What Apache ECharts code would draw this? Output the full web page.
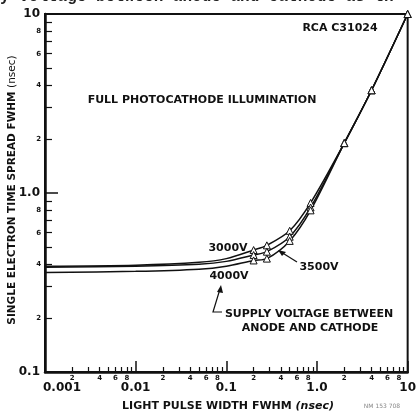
<!DOCTYPE html>
<html>
<head>
<meta charset="utf-8">
<script src="https://cdn.jsdelivr.net/npm/echarts@6/dist/echarts.min.js"></script>
<style>
html, body { margin: 0; padding: 0; background: #fff; }
#chart1 { width: 419px; height: 412px; }
</style>
</head>
<body>
<div id="chart1"></div>
<script>
// light pulse width (nsec)
var pulseWidth = [0.001, 0.01, 0.05, 0.1, 0.2, 0.28, 0.5, 0.85, 2, 4, 10];
// which points carry a triangle marker
var hasMarker = [false, false, false, false, true, true, true, true, true, true, true];
// time spread FWHM (nsec) for each supply voltage
var spread3000 = [0.39, 0.395, 0.41, 0.43, 0.48, 0.51, 0.615, 0.88, 1.9, 3.75, 10];
var spread3500 = [0.385, 0.39, 0.40, 0.415, 0.45, 0.47, 0.57, 0.83, 1.9, 3.75, 10];
var spread4000 = [0.36, 0.365, 0.375, 0.39, 0.42, 0.43, 0.54, 0.80, 1.9, 3.75, 10];

// tick positions
var xMajor = [0.001, 0.01, 0.1, 1, 10];
var xMajorText = ['0.001', '0.01', '0.1', '1.0', '10'];
var yMajor = [0.1, 1, 10];
var yMajorText = ['0.1', '1.0', '10'];
var minorSteps = [2, 3, 4, 5, 6, 7, 8, 9];
var minorLabelSteps = [2, 4, 6, 8];

function decadeValues(decades, steps) {
    var out = [];
    for (var i = 0; i < decades.length; i++) {
        for (var j = 0; j < steps.length; j++) {
            out.push(+(decades[i] * steps[j]).toPrecision(3));
        }
    }
    return out;
}
var xMinorTicks = decadeValues([0.001, 0.01, 0.1, 1], minorSteps);
var xMinorLabels = decadeValues([0.001, 0.01, 0.1, 1], minorLabelSteps);
var yMinorTicks = decadeValues([0.1, 1], minorSteps);
var yMinorLabels = decadeValues([0.1, 1], minorLabelSteps);

function mantissa(v) {
    var m = v / Math.pow(10, Math.floor(Math.log10(v) + 1e-9));
    return String(Math.round(m));
}
function majorText(list, texts) {
    return function (v) {
        for (var i = 0; i < list.length; i++) {
            if (Math.abs(Math.log10(v) - Math.log10(list[i])) < 1e-6) {
                return i === 0 && list === xMajor ? '{first|' + texts[i] + '}' : texts[i];
            }
        }
        return '';
    };
}

function buildData(ys) {
    var d = [];
    for (var i = 0; i < pulseWidth.length; i++) {
        d.push({ value: [pulseWidth[i], ys[i]], symbol: hasMarker[i] ? 'triangle' : 'none' });
    }
    return d;
}

var FONT = '"DejaVu Sans", sans-serif';
var INK = '#111';

var _chart1 = null;
function initChart1() {
    _chart1 = echarts.init(document.getElementById('chart1'), null, { renderer: 'canvas' });

    var lineSeries = function (name, ys) {
        return {
            name: name,
            type: 'line',
            data: buildData(ys),
            smooth: 0.3,
            symbolSize: 7,
            showAllSymbol: true,
            lineStyle: { color: INK, width: 1.5 },
            itemStyle: { color: '#fff', borderColor: INK, borderWidth: 1 },
            z: 3
        };
    };

    var axisCommon = { type: 'log', logBase: 10, splitLine: { show: false }, minorTick: { show: false } };

    var option = {
        animation: false,
        backgroundColor: '#fff',
        textStyle: { fontFamily: FONT },
        grid: {
            left: 45, right: 8, top: 14, bottom: 40,
            show: true, borderColor: INK, borderWidth: 2, backgroundColor: 'transparent'
        },
        xAxis: [
            Object.assign({}, axisCommon, {
                min: 0.001, max: 10, position: 'bottom',
                axisLine: { show: true, lineStyle: { color: INK, width: 2.5 } },
                axisTick: { show: true, inside: true, length: 11, customValues: xMajor, lineStyle: { color: INK, width: 1.5 } },
                axisLabel: {
                    customValues: xMajor, formatter: majorText(xMajor, xMajorText), margin: 10,
                    color: INK, fontFamily: FONT, fontWeight: 'bold', fontSize: 12,
                    rich: { first: { padding: [0, 0, 0, 34], fontFamily: FONT, fontWeight: 'bold', fontSize: 12, color: INK } }
                }
            }),
            Object.assign({}, axisCommon, {
                min: 0.001, max: 10, position: 'bottom',
                axisLine: { show: false },
                axisTick: { show: true, inside: true, length: 5, customValues: xMinorTicks, lineStyle: { color: INK, width: 1.2 } },
                axisLabel: {
                    customValues: xMinorLabels, formatter: mantissa, margin: 3,
                    color: INK, fontFamily: FONT, fontWeight: 'bold', fontSize: 7
                }
            })
        ],
        yAxis: [
            Object.assign({}, axisCommon, {
                min: 0.1, max: 10, position: 'left',
                axisLine: { show: true, lineStyle: { color: INK, width: 2.5 } },
                axisTick: { show: true, inside: true, length: 13, customValues: yMajor, lineStyle: { color: INK, width: 1.5 } },
                axisLabel: {
                    customValues: yMajor, formatter: majorText(yMajor, yMajorText), margin: 5,
                    color: INK, fontFamily: FONT, fontWeight: 'bold', fontSize: 12
                }
            }),
            Object.assign({}, axisCommon, {
                min: 0.1, max: 10, position: 'left',
                axisLine: { show: false },
                axisTick: { show: true, inside: true, length: 7, customValues: yMinorTicks, lineStyle: { color: INK, width: 1.2 } },
                axisLabel: {
                    customValues: yMinorLabels, formatter: mantissa, margin: 4,
                    color: INK, fontFamily: FONT, fontWeight: 'bold', fontSize: 7
                }
            })
        ],
        series: [
            lineSeries('3000V', spread3000),
            lineSeries('3500V', spread3500),
            lineSeries('4000V', spread4000)
        ],
        graphic: [
            // cut-off line of body text above the figure
            { type: 'text', left: 0, top: -11, style: { text: 'y voltage between anode and cathode as th', fontFamily: '"Liberation Mono", monospace', fontWeight: 'bold', fontSize: 16, fill: '#222' } },
            { type: 'text', x: 340, y: 28, style: { text: 'RCA C31024', align: 'center', verticalAlign: 'middle', fontFamily: FONT, fontWeight: 'bold', fontSize: 11, fill: INK } },
            { type: 'text', x: 202, y: 100, style: { text: 'FULL PHOTOCATHODE ILLUMINATION', align: 'center', verticalAlign: 'middle', fontFamily: FONT, fontWeight: 'bold', fontSize: 11, fill: INK } },
            { type: 'text', x: 228, y: 248, style: { text: '3000V', align: 'center', verticalAlign: 'middle', fontFamily: FONT, fontWeight: 'bold', fontSize: 11, fill: INK } },
            { type: 'text', x: 319, y: 267, style: { text: '3500V', align: 'center', verticalAlign: 'middle', fontFamily: FONT, fontWeight: 'bold', fontSize: 11, fill: INK } },
            { type: 'text', x: 229, y: 276, style: { text: '4000V', align: 'center', verticalAlign: 'middle', fontFamily: FONT, fontWeight: 'bold', fontSize: 11, fill: INK } },
            { type: 'text', x: 309, y: 314, style: { text: 'SUPPLY VOLTAGE BETWEEN', align: 'center', verticalAlign: 'middle', fontFamily: FONT, fontWeight: 'bold', fontSize: 11, fill: INK } },
            { type: 'text', x: 310, y: 328, style: { text: 'ANODE AND CATHODE', align: 'center', verticalAlign: 'middle', fontFamily: FONT, fontWeight: 'bold', fontSize: 11, fill: INK } },
            // leaders
            { type: 'line', shape: { x1: 297, y1: 262, x2: 281, y2: 252 }, style: { stroke: INK, lineWidth: 1.2 } },
            { type: 'polygon', shape: { points: [[278, 250], [286, 252], [282, 256]] }, style: { fill: INK } },
            { type: 'polyline', shape: { points: [[222, 312], [213, 312], [220, 289]] }, style: { stroke: INK, lineWidth: 1.2, fill: null } },
            { type: 'polygon', shape: { points: [[221, 285], [217, 292], [223, 293]] }, style: { fill: INK } },
            // axis titles
            { type: 'text', x: 228, y: 406, style: { text: 'LIGHT PULSE WIDTH FWHM {i|(nsec)}', align: 'center', verticalAlign: 'middle', fontFamily: FONT, fontWeight: 'bold', fontSize: 11, fill: INK,
                rich: { i: { fontFamily: FONT, fontStyle: 'italic', fontWeight: 'bold', fontSize: 11, fill: INK } } } },
            { type: 'text', x: 12, y: 190, rotation: Math.PI / 2, style: { text: 'SINGLE ELECTRON TIME SPREAD FWHM {n|(nsec)}', align: 'center', verticalAlign: 'middle', fontFamily: FONT, fontWeight: 'bold', fontSize: 10.5, fill: INK,
                rich: { n: { fontFamily: FONT, fontWeight: 'normal', fontSize: 10.5, fill: INK } } } },
            { type: 'text', x: 382, y: 406, style: { text: 'NM 153 708', align: 'center', verticalAlign: 'middle', fontFamily: FONT, fontSize: 6, fill: '#888' } }
        ]
    };

    _chart1.setOption(option);
}
initChart1();
</script>
</body>
</html>
